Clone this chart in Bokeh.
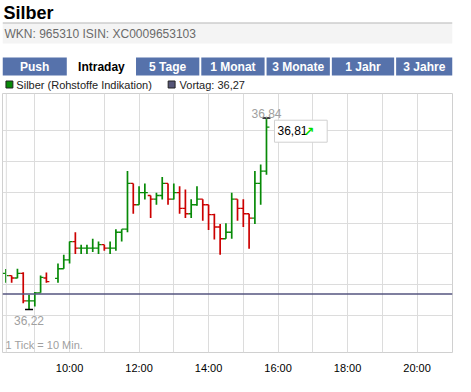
from bokeh.plotting import figure
from bokeh.models import Range1d, FixedTicker, Span, Label, ColumnDataSource
from bokeh.layouts import column
from bokeh.embed import file_html
from bokeh.resources import INLINE
from bokeh.core.properties import value

# ---------------- data ----------------
title = "Silber"
ident = "WKN: 965310   ISIN: XC0009653103"
tabs = ["Push", "Intraday", "5 Tage", "1 Monat", "3 Monate", "1 Jahr", "3 Jahre"]
active_tab = "Intraday"
series_name = "Silber (Rohstoffe Indikation)"
prev_close = 36.27
prev_label = "Vortag: 36,27"
tick_note = "1 Tick = 10 Min."

times = ["08:10", "08:20", "08:30", "08:40", "08:50", "09:00", "09:10", "09:20",
         "09:40", "09:50", "10:00", "10:10", "10:20", "10:30", "10:40", "10:50",
         "11:00", "11:10", "11:20", "11:30", "11:40", "11:50",
         "12:00", "12:10", "12:20", "12:30", "12:40", "12:50",
         "13:00", "13:10", "13:20", "13:30", "13:40", "13:50",
         "14:00", "14:10", "14:20", "14:30", "14:40", "14:50",
         "15:00", "15:10", "15:20", "15:30", "15:40"]
opens = [36.337, 36.330, 36.322, 36.337, 36.248, 36.248, 36.274, 36.322,
         36.321, 36.352, 36.381, 36.440, 36.419, 36.419, 36.419, 36.419,
         36.430, 36.419, 36.419, 36.470, 36.480, 36.628,
         36.559, 36.598, 36.589, 36.577, 36.589, 36.628,
         36.577, 36.598, 36.547, 36.530, 36.559, 36.577,
         36.559, 36.527, 36.487, 36.449, 36.470, 36.577,
         36.547, 36.530, 36.516, 36.628, 36.668]
highs = [36.351, 36.330, 36.352, 36.341, 36.268, 36.277, 36.330, 36.340,
         36.369, 36.397, 36.440, 36.470, 36.430, 36.430, 36.449, 36.440,
         36.430, 36.440, 36.480, 36.480, 36.668, 36.628,
         36.619, 36.628, 36.589, 36.598, 36.649, 36.628,
         36.628, 36.619, 36.608, 36.577, 36.619, 36.577,
         36.559, 36.530, 36.497, 36.499, 36.598, 36.577,
         36.577, 36.530, 36.668, 36.689, 36.840]
lows = [36.307, 36.307, 36.321, 36.240, 36.220, 36.230, 36.274, 36.307,
        36.307, 36.352, 36.369, 36.400, 36.400, 36.400, 36.406, 36.400,
        36.410, 36.400, 36.410, 36.440, 36.470, 36.530,
        36.559, 36.576, 36.516, 36.559, 36.576, 36.559,
        36.576, 36.530, 36.516, 36.516, 36.556, 36.507,
        36.477, 36.447, 36.397, 36.449, 36.449, 36.507,
        36.487, 36.417, 36.497, 36.559, 36.656]
closes = [36.330, 36.322, 36.337, 36.248, 36.248, 36.274, 36.324, 36.310,
          36.352, 36.381, 36.440, 36.419, 36.419, 36.419, 36.419, 36.430,
          36.419, 36.419, 36.470, 36.480, 36.628, 36.559,
          36.598, 36.598, 36.577, 36.589, 36.628, 36.577,
          36.598, 36.547, 36.530, 36.559, 36.577, 36.559,
          36.527, 36.487, 36.449, 36.470, 36.577, 36.547,
          36.530, 36.516, 36.628, 36.668, 36.810]

xtick_hours = [10, 12, 14, 16, 18, 20]
xtick_labels = ["10:00", "12:00", "14:00", "16:00", "18:00", "20:00"]
grid_hours = [9, 10, 11, 12, 13, 14, 15, 16, 17, 18, 19, 20]
grid_prices = [36.2, 36.3, 36.4, 36.5, 36.6, 36.7, 36.8]

# ---------------- styles ----------------
FONT = value("Liberation Sans")
GREEN = "#078a07"
RED = "#cc0000"
TAB = "#5672ab"
W = 455
H1 = 92
H2 = 284

# ---------------- header figure ----------------
hdr = figure(width=W, height=H1, x_range=Range1d(0, W), y_range=Range1d(H1, 0),
             toolbar_location=None, output_backend="svg", min_border=0,
             x_axis_location=None, y_axis_location=None)
hdr.grid.visible = False
hdr.outline_line_color = None

hdr.text(x=[1], y=[2], text=[title], text_font=FONT, text_font_style="bold",
         text_font_size="18px", text_color="#000000", text_baseline="top")
hdr.quad(left=[0], right=[W], top=[23], bottom=[43], fill_color="#f4f4f4", line_color=None)
hdr.segment(x0=[0], y0=[22.5], x1=[W], y1=[22.5], line_color="#b4b4b4", line_width=1)
hdr.text(x=[2], y=[33.5], text=[ident], text_font=FONT, text_font_size="12px",
         text_color="#6a6a6a", text_baseline="middle")

tab_left = [0, 66, 135, 201, 267, 333, 398]
tab_right = [65, 134, 199, 265, 331, 396, W]
tab_fill = ["#ffffff" if t == active_tab else TAB for t in tabs]
tab_txt = ["#000000" if t == active_tab else "#ffffff" for t in tabs]
hdr.quad(left=tab_left, right=tab_right, top=[57] * len(tabs), bottom=[75] * len(tabs),
         fill_color=tab_fill, line_color=None)
hdr.text(x=[(a + b) / 2 for a, b in zip(tab_left, tab_right)], y=[66.5] * len(tabs), text=tabs,
         text_font=FONT, text_font_style="bold", text_font_size="12px",
         text_color=tab_txt, text_align="center", text_baseline="middle")

# legend row
hdr.quad(left=[3.5, 167.5], right=[10.5, 174.5], top=[80.5, 80.5], bottom=[87.5, 87.5],
         fill_color=[GREEN, "#555577"], line_color="#222222", line_width=1)
hdr.text(x=[14, 179], y=[84, 84], text=[series_name, prev_label], text_font=FONT,
         text_font_size="11px", text_color="#222222", text_baseline="middle")

# ---------------- chart figure ----------------
t = [int(s[:2]) + int(s[3:]) / 60 for s in times]
colors = []
prev = prev_close
for c in closes:
    colors.append(GREEN if c >= prev - 1e-9 else RED)
    prev = c

half = 0.085
src = ColumnDataSource(dict(t=t, tl=[x - half for x in t], tr=[x + half for x in t],
                            o=opens, h=highs, l=lows, c=closes, col=colors))

x0, x1 = 8.07, 21.02
y0, y1 = 36.081, 36.919
p = figure(width=W, height=H2, x_range=Range1d(x0, x1), y_range=Range1d(y0, y1),
           toolbar_location=None, output_backend="svg",
           min_border_left=2, min_border_right=3, min_border_top=1, min_border_bottom=0,
           y_axis_location=None)
p.outline_line_color = "#d0d0d0"
p.xgrid.ticker = FixedTicker(ticks=grid_hours)
p.ygrid.ticker = FixedTicker(ticks=grid_prices)
p.grid.grid_line_color = "#dcdcdc"
p.grid.grid_line_width = 1

p.xaxis.ticker = FixedTicker(ticks=xtick_hours)
p.xaxis.major_label_overrides = {h: lab for h, lab in zip(xtick_hours, xtick_labels)}
p.xaxis.axis_line_color = None
p.xaxis.major_tick_line_color = None
p.xaxis.minor_tick_line_color = None
p.xaxis.major_label_text_font = "Liberation Sans"
p.xaxis.major_label_text_font_size = "11px"
p.xaxis.major_label_text_color = "#000000"
p.xaxis.major_label_standoff = 3

p.add_layout(Span(location=x0 + 0.11, dimension="height", line_color="#dcdcdc", line_width=1))
p.add_layout(Span(location=prev_close, dimension="width", line_color="#55557f", line_width=1.5))

p.segment(x0="t", y0="l", x1="t", y1="h", line_color="col", line_width=1.7, source=src)
p.segment(x0="tl", y0="o", x1="t", y1="o", line_color="col", line_width=1.3, source=src)
p.segment(x0="t", y0="c", x1="tr", y1="c", line_color="col", line_width=1.3, source=src)

i_lo = min(range(len(lows)), key=lambda i: lows[i])
i_hi = max(range(len(highs)), key=lambda i: highs[i])
mk = 0.115
p.segment(x0=[t[i_lo] - mk, t[i_hi] - mk], y0=[lows[i_lo], highs[i_hi]],
          x1=[t[i_lo] + mk, t[i_hi] + mk], y1=[lows[i_lo], highs[i_hi]],
          line_color="#000000", line_width=1.5)


def fmt(v):
    return f"{v:.2f}".replace(".", ",")


p.add_layout(Label(x=t[i_lo], y=lows[i_lo], text=fmt(lows[i_lo]), y_offset=-6,
                   text_align="center", text_baseline="top", text_font="Liberation Sans",
                   text_font_size="12px", text_color="#a0a0a0"))
p.add_layout(Label(x=t[i_hi], y=highs[i_hi], text=fmt(highs[i_hi]), y_offset=4,
                   text_align="center", text_baseline="alphabetic", text_font="Liberation Sans",
                   text_font_size="12px", text_color="#a0a0a0"))

last_kw = dict(x=t[-1], y=closes[-1], text=fmt(closes[-1]) + "\u00a0\u00a0\u00a0\u00a0\u00a0",
               x_offset=8, y_offset=-4, text_align="left", text_baseline="middle",
               text_font="Liberation Sans", text_font_size="12px", text_color="#000000",
               background_fill_color="#ffffff", border_line_color="#d0d0d0")
try:
    last_lbl = Label(padding=(3, 4), **last_kw)
except Exception:
    last_lbl = Label(**last_kw)
p.add_layout(last_lbl)
p.add_layout(Label(x=t[-1], y=closes[-1], text="\u2197", x_offset=37, y_offset=-4,
                   text_align="left", text_baseline="middle", text_font="DejaVu Sans",
                   text_font_style="bold", text_font_size="13px", text_color="#00dd00"))

p.add_layout(Label(x=x0, y=y0, text=tick_note, x_offset=3, y_offset=2,
                   text_align="left", text_baseline="bottom", text_font="Liberation Sans",
                   text_font_size="11px", text_color="#a0a0a0"))

page = column(hdr, p, spacing=0)
open("out.html", "w").write(file_html(page, INLINE))
